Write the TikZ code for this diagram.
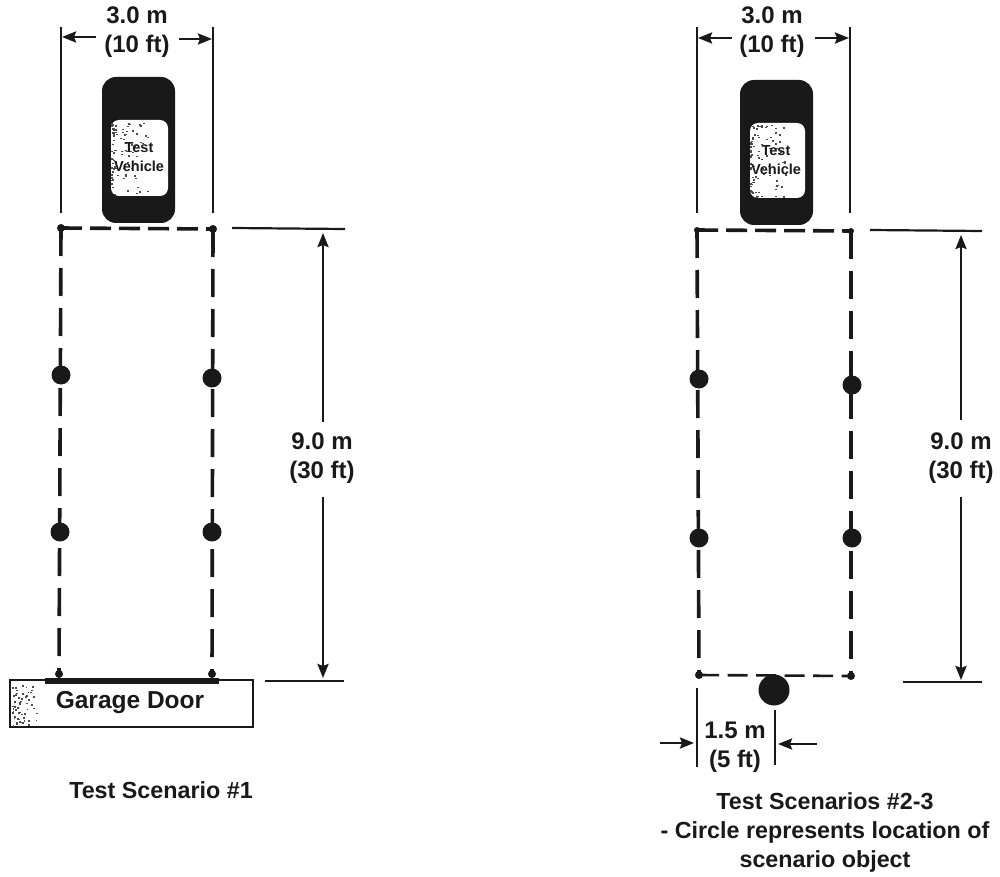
\documentclass[tikz,border=0pt]{standalone}
\usepackage{fontspec}
\setmainfont{Liberation Sans}
\usetikzlibrary{arrows.meta}
\tikzset{
  lbl/.style={font=\bfseries\fontsize{24}{29}\selectfont,align=center,inner sep=0pt,text=black!90},
  captxt/.style={font=\bfseries\fontsize{23.3}{29}\selectfont,align=center,inner sep=0pt,text=black!90},
  vlbl/.style={font=\bfseries\fontsize{14.5}{19}\selectfont,align=center,inner sep=0pt,text=black!90},
  thin line/.style={line width=2.2pt,black!90},
  dimarrow/.style={line width=2.5pt,black!90,-{Stealth[length=14pt,width=11pt,inset=2pt]}},
  vdash/.style={line width=3.6pt,black!90,dash pattern=on 28pt off 12pt},
  hdash/.style={line width=3.6pt,black!90,dash pattern=on 21pt off 8pt},
  bigdot/.style={circle,fill=black!90,inner sep=0pt,minimum size=19pt},
  smalldot/.style={circle,fill=black!90,inner sep=0pt,minimum size=8pt},
  carbody/.style={rounded corners=14pt,fill=black!90,draw=none},
  windscreen/.style={rounded corners=8pt,fill=white,draw=none},
}
\newcommand{\speckle}[3]{%
  \pgfmathsetseed{#3}
  \foreach \i in {1,...,90}{
    \pgfmathsetmacro{\dx}{pow(rnd,2)*38}
    \pgfmathsetmacro{\dy}{pow(rnd,1.3)*72}
    \fill[black!70] ({#1+\dx},{#2+\dy}) rectangle ++(2,1.4);
  }}
\begin{document}
\begin{tikzpicture}[x=1pt,y=-1pt]
\useasboundingbox (0,0) rectangle (1000,877);

% ---- left scenario
\coordinate (la) at (61,27);  \coordinate (lb) at (61,213);
\coordinate (lc) at (213,27); \coordinate (ld) at (213,213);
\draw[thin line] (la) -- (lb);
\draw[thin line] (lc) -- (ld);
\node[lbl] (ldim) at (137,32) {3.0 m\\(10 ft)};
\coordinate (lal) at (62,37); \coordinate (lar) at (212,39);
\draw[dimarrow] (96,37) -- (lal);
\draw[dimarrow] (179,39) -- (lar);

\path[carbody] (102,77) rectangle (175,223);
\path[windscreen] (111,120) rectangle (168,196);
\speckle{111}{123}{11}
\node[vlbl] (lveh) at (139,157) {Test\\Vehicle};

\node[smalldot] (ltl) at (61,228) {};
\node[smalldot] (ltr) at (213,229) {};
\node[smalldot] (lbl1) at (59,674) {};
\node[smalldot] (lbr) at (212,674) {};
\node[bigdot] (lm1) at (61,375) {};
\node[bigdot] (lm2) at (212,378) {};
\node[bigdot] (lm3) at (60,532) {};
\node[bigdot] (lm4) at (212,532) {};
\draw[hdash] (ltl.center) -- (ltr.center);
\draw[vdash] (ltl.center) -- (lbl1.center);
\draw[vdash] (ltr.center) -- (lbr.center);

\draw[line width=2.2pt,black!90] (232,228) -- (345,229);
\draw[line width=2.2pt,black!90] (265,681) -- (344,681);
\node[lbl] (lh) at (322,458) {9.0 m\\(30 ft)};
\coordinate (lht) at (323,233); \coordinate (lhb) at (323,678);
\draw[dimarrow] (323,300) -- (lht);
\draw[thin line] (323,300) -- (323,422);
\draw[dimarrow] (323,497) -- (lhb);

\node[draw=black!90,line width=2.6pt,fill=white,minimum width=243pt,minimum height=47pt,inner sep=0pt] (door) at (131.5,703.5) {};
\fill[black!90] (45,678) rectangle (219,684);
\pgfmathsetseed{5}
\foreach \i in {1,...,55}{
  \pgfmathsetmacro{\dx}{pow(rnd,1.5)*24}\pgfmathsetmacro{\dy}{rnd*40}
  \fill[black!70] ({12+\dx},{685+\dy}) rectangle ++(1.8,1.6);
}
\node[font=\bfseries\fontsize{24.5}{30}\selectfont,inner sep=0pt,text=black!90] (dtxt) at (130,703) {Garage Door};
\node[captxt] (lcap) at (161,790) {Test Scenario \#1};

% ---- right scenario
\coordinate (ra) at (697,27);  \coordinate (rb) at (697,213);
\coordinate (rc) at (850,27);  \coordinate (rd) at (850,213);
\draw[thin line] (ra) -- (rb);
\draw[thin line] (rc) -- (rd);
\node[lbl] (rdim) at (772,32) {3.0 m\\(10 ft)};
\coordinate (ral) at (698,38); \coordinate (rar) at (849,38);
\draw[dimarrow] (732,38) -- (ral);
\draw[dimarrow] (815,38) -- (rar);

\path[carbody] (740,80) rectangle (813,225);
\path[windscreen] (750,123) rectangle (805,198);
\speckle{750}{125}{23}
\node[vlbl] (rveh) at (776,160) {Test\\Vehicle};

\node[smalldot,minimum size=6pt] (rtl) at (697,230) {};
\node[smalldot,minimum size=6pt] (rtr) at (851,231) {};
\node[smalldot] (rbl) at (699,675) {};
\node[smalldot] (rbr) at (851,676) {};
\node[bigdot] (rm1) at (699,379) {};
\node[bigdot] (rm2) at (852,385) {};
\node[bigdot] (rm3) at (699,538) {};
\node[bigdot] (rm4) at (852,538) {};
\draw[hdash] (rtl.center) -- (rtr.center);
\draw[vdash] (rtl.center) -- (rbl.center);
\draw[vdash] (rtr.center) -- (rbr.center);
\draw[line width=2.6pt,black!90,dash pattern=on 20pt off 8.5pt] (rbl.center) -- (rbr.center);

\draw[line width=2.2pt,black!90] (870,230) -- (982,231);
\draw[line width=2.2pt,black!90] (903,682) -- (982,682);
\node[lbl] (rh) at (961,458) {9.0 m\\(30 ft)};
\coordinate (rht) at (961,235); \coordinate (rhb) at (961,680);
\draw[dimarrow] (961,300) -- (rht);
\draw[thin line] (961,300) -- (961,420);
\draw[dimarrow] (961,497) -- (rhb);

\node[circle,fill=black!90,inner sep=0pt,minimum size=31pt] (obj) at (774,690) {};
\draw[thin line] (697,688) -- (697,767);
\draw[thin line] (775,710) -- (775,765);
\node[lbl] (odim) at (735,747) {1.5 m\\(5 ft)};
\coordinate (oal) at (694,743); \coordinate (oar) at (778,744);
\draw[dimarrow] (660,743) -- (oal);
\draw[dimarrow] (817,744) -- (oar);
\node[captxt] (rcap) at (825,832) {Test Scenarios \#2-3\\- Circle represents location of\\scenario object};
\end{tikzpicture}
\end{document}
